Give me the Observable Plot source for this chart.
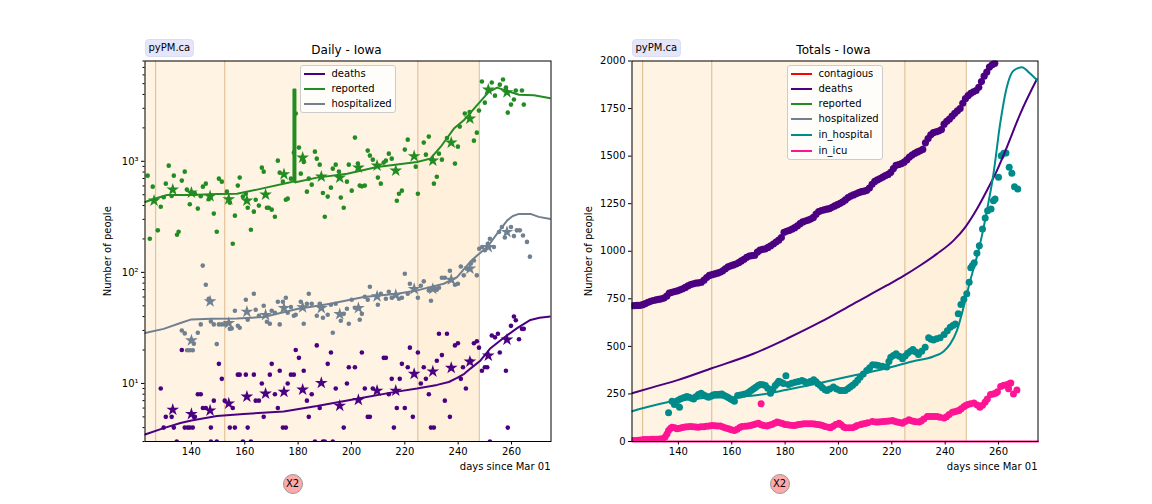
<!DOCTYPE html>
<html><head><meta charset="utf-8">
<script src="https://cdn.jsdelivr.net/npm/d3@7"></script>
<script src="https://cdn.jsdelivr.net/npm/@observablehq/plot@0.6"></script>
<style>
html,body{margin:0;padding:0;background:#fff;overflow:hidden}
#root{position:relative;width:1152px;height:504px;font-family:"DejaVu Sans",sans-serif;font-size:10px;color:#000}
#root svg{position:absolute;top:0}
.lab{position:absolute;white-space:nowrap}
.badge{background:#e6e6fa;border:1px solid #dcdcf2;border-radius:4px;padding:1px 3px;line-height:14px}
.x2{width:18px;height:18px;border-radius:50%;background:#ffaaaa;border:1px solid #999;text-align:center;line-height:18px}
.legend{position:absolute;background:rgba(255,255,255,.8);border:1px solid #ccc;border-radius:3px;box-sizing:border-box}
.legend .s{position:absolute;left:3px;width:21px;height:2px}
.legend .t{position:absolute;white-space:nowrap;line-height:12px}
</style></head><body><div id="root"></div>
<script>
const xDomain = [122.6, 274.8];
const logDomain = [3, 8000];
const periodEdges = [126.6, 152.5, 224.9, 247.9];
const xTicks = [140,160,180,200,220,240,260];
const logMajor = [10,100,1000];
const logMinor = [3,4,5,6,7,8,9,20,30,40,50,60,70,80,90,200,300,400,500,600,700,800,900,2000,3000,4000,5000,6000,7000,8000];
const totalTicks = [0,250,500,750,1000,1250,1500,1750,2000];

const colors = {contagious:"#ff0000",deaths:"#4b0082",reported:"#228b22",hospitalized:"#708090",in_hospital:"#008b8b",in_icu:"#ff1493"};

const reportedDots = [[123.6,743],[124.4,201],[125.5,591],[127.4,239],[128.5,390],[129.6,474],[130.4,629],[131.5,914],[132.6,487],[133.4,743],[134.6,218],[135.2,232],[136.4,670],[137.5,807],[138.3,556],[139.4,410],[140.5,519],[141.3,511],[142.4,375],[143.5,484],[144.3,591],[145.4,629],[146.5,455],[147.3,490],[148.4,338],[149.5,232],[150.3,698],[151.4,656],[153.3,533],[154.4,424],[155.5,181],[156.3,324],[157.4,604],[158.1,713],[159.3,481],[160.4,511],[161.1,382],[162.3,242],[163.4,352],[164.1,451],[165.3,399],[166.4,877],[167.1,807],[168.3,382],[169,382],[170.1,367],[171.3,317],[172.4,1014],[173.1,790],[174.3,656],[175.4,451],[176.1,461],[177.3,698],[178.4,1197],[179.1,2690],[180.3,1328],[181,774],[182.1,986],[183.3,533],[184,698],[185.1,616],[186.3,1222],[187,1057],[188.1,933],[189.3,519],[190,317],[191.1,481],[192.3,579],[193,859],[194.1,933],[195.3,807],[196,471],[197.1,382],[198.3,656],[199,933],[200.1,544],[201.3,1634],[202.4,953],[203.1,604],[203.9,595],[205,604],[206.1,1248],[206.9,1125],[208,1035],[209.9,713],[211,629],[212.1,973],[212.9,1014],[214,1172],[215.1,1057],[217,442],[217.8,511],[218.9,544],[220,1274],[221.1,1567],[224.1,895],[224.9,511],[227.1,1473],[227.9,1148],[229,1668],[230.9,629],[232,727],[232.8,1172],[233.9,1035],[235.8,1623],[238.8,953],[239.9,1355],[240.6,2053],[242.5,2690],[244.3,2780],[245.9,1535],[247,1812],[247.8,2860],[248.9,5230],[250,3375],[252.6,5120],[253.8,3900],[255.6,4900],[256.8,5450],[257.9,4610],[258.6,2745],[259.8,3240],[260.9,3600],[261.6,4340],[263.9,4340],[264.6,3240]];
const reportedStars = [[126,442],[133,556],[140,522],[147,484],[154,455],[160.8,442],[167.8,501],[174.7,764],[181.7,1079],[188.7,727],[195.6,713],[202.6,877],[209.6,914],[216.6,824],[223.5,1109],[230.5,1014],[237.4,1473],[244.4,2420],[251.3,4420],[258.3,4180]];
const reportedLine = [[122.6,430],[127.1,467],[130.9,497],[140,497],[149.6,508],[157.1,511],[164.6,556],[177.1,647],[178.25,660],[179,647],[187.1,713],[198.4,774],[209.6,889],[224.6,986],[229.6,1057],[233.4,1346],[238.4,1970],[242.1,2340],[247.1,3200],[251.5,4220],[254.6,4610],[262.8,3980],[268.4,3930],[274.6,3700]];
const reportedSpike = [[178.25,660],[178.25,4420],[179,4420],[179,647]];

const hospDots = [[136.4,30],[137.5,28.2],[138.4,19.9],[139.4,19.9],[140.5,19.9],[140.9,22.8],[142.4,28.6],[143.5,34],[144.25,115],[145.4,77.4],[146.5,57.9],[147.3,36.2],[148.4,34],[149.5,22.6],[150.3,34],[151.4,34],[152.5,34],[154.4,31],[155.1,31.3],[156.3,45.1],[157.4,33.1],[158.1,31.7],[160.4,56.7],[161.1,37.4],[163.4,64.2],[164.1,46.1],[165.3,40.7],[167.1,50.1],[168.3,35.9],[169.4,34.5],[170.1,45.1],[171.3,43.3],[172.4,54.4],[173.1,34],[174.3,54.4],[175.4,59.1],[176.1,43.3],[177.3,48.7],[178.4,40.7],[179.1,41.5],[181,54.4],[182.1,34.5],[183.3,52.2],[184,64.2],[185.1,52.2],[187,40.7],[188.1,52.2],[189.3,39],[191.1,41.5],[192.3,51.1],[193,28.6],[194.1,52.2],[196,36.7],[197.1,42.3],[198.3,47.1],[199,34.5],[200.1,56.7],[201.3,48],[203.1,37.4],[203.9,42.3],[205,60.4],[206.1,56.7],[206.9,74.3],[209.9,51.1],[211,64.2],[212.9,57.9],[214,67],[215.1,59.1],[217.8,57.9],[218.9,59.1],[220,97.3],[221.1,64.2],[221.9,79],[224.9,59.1],[226,75.8],[227.1,83],[229,68.8],[229.8,55.6],[230.9,72.7],[232,69.8],[232.8,72.7],[233.9,89.5],[235,89.5],[236.9,103.5],[238.8,77.4],[239.9,79],[241,113],[242.1,94],[243.3,108],[244.75,120],[245.9,128],[247,94],[247.9,163],[249,169],[250,158],[251.1,181],[251.9,201],[253.4,169],[255.3,231],[256.4,256],[257.5,206],[259.8,256],[260.9,212],[262,239],[263.1,239],[264.3,215],[265.8,188],[266.9,138.5]];
const hospStars = [[140,24.4],[147,54.8],[154,35],[160.8,44.2],[167.8,41.3],[174.7,47.7],[181.7,48.4],[188.7,47.7],[195.6,42.1],[202.6,47.7],[209.6,60.8],[216.6,62.5],[223.5,70.8],[230.5,71],[237.4,85.9],[244.4,108],[251.3,169],[258.3,231]];
const hospLine = [[122.6,28.4],[129.6,31],[135.9,35],[140,37.7],[147.3,38.2],[157.1,38.5],[167.1,39.6],[179.6,46.8],[192.1,52.2],[204.6,60],[217.1,64.2],[224.6,68.8],[234.6,79],[239.6,90.7],[244.6,125],[247.1,142],[250.9,169],[254.6,223],[258.4,294],[260.5,322],[262.8,336],[267.1,336],[270.2,316],[274.6,302]];

const deathDots = [[128.5,9],[129.6,4],[130.4,5],[132.6,5],[133.4,4],[134.5,3],[136.4,20],[137.5,4],[138.6,4],[139.4,4],[140.5,4],[140.9,5],[141.3,5],[142.4,8],[143.5,8],[144.3,6],[145.4,6],[147.3,3],[147.3,4],[148.4,7],[149.5,3],[150.3,15],[151.4,11],[152.5,7],[154.4,4],[155.5,6],[156.3,4],[157.4,12],[158.1,12],[159.3,3],[160.4,12],[161.1,4],[162.3,3],[163.4,12],[164.1,7],[165.3,7],[166.4,10],[167.1,5],[169.4,12],[170.1,15],[171.3,8],[172.4,6],[173.1,13],[174.3,4],[175.4,4],[176.1,10],[177.3,12],[178.4,12],[179.1,20],[180.3,17],[182.1,13],[183.3,7],[184,5],[185.1,8],[186.3,3],[187,22],[188.1,6],[189.3,3],[190,3],[191.1,15],[192.3,19],[193,3],[194.1,9],[197.1,4],[198.3,10],[199,14],[201.3,14],[203.9,19],[205,9],[206.1,5],[206.9,5],[208,9],[212.1,17],[212.9,17],[214,8],[215.1,11],[215.9,4],[217,6],[218.1,11],[218.9,15],[220,6],[221.1,14],[221.9,21],[223,5],[224.9,19],[226,10],[227.1,14],[227.9,11],[229,8],[229.8,4],[230.9,4],[232,16],[232.8,28],[233.9,18],[235,7],[235.8,28],[236.9,5],[238.8,22],[239.9,23],[241,11],[241.8,14],[242.9,9],[244.75,16],[245.9,23],[247,24],[247.8,21],[248.9,13],[250,14],[250.9,14],[251.9,3],[252.6,27],[253.8,26],[254.9,28],[255.6,19],[257.9,13],[258.6,4],[259.8,33],[260.9,40],[261.6,37],[262.8,25],[263.9,31],[264.6,31]];
const deathStars = [[133,5.8],[140,5.3],[147,5.7],[154,6.6],[160.8,7.6],[167.8,8.1],[174.7,8.4],[181.7,8.8],[188.7,10.1],[195.6,6.3],[202.6,7.1],[209.6,8.6],[216.6,8.6],[223.5,12.2],[230.5,12.8],[237.4,13.8],[244.4,15.7],[251.3,17.8],[258.3,24.8]];
const deathLine = [[122.6,3.47],[129.6,3.96],[135.9,4.4],[140,4.64],[149.6,5.08],[159.6,5.3],[174.6,5.6],[187.1,6.25],[202.1,7.27],[215.9,8.35],[224.6,9],[232.1,9.7],[236.5,10.3],[239.6,11.2],[242.3,12.2],[244.6,13.6],[248.4,16.1],[251.9,20.5],[257.1,25.8],[262.1,31.5],[267.1,37.3],[270.5,39],[274.6,40]];

const totalDeathDots = [[122.6,713],[123.6,714],[124.6,715],[125.6,716],[126.6,719],[127.6,725],[128.6,732],[129.6,737],[130.6,741],[131.6,744],[132.6,747],[133.6,750],[134.6,754],[135.6,764],[136.6,780],[137.6,784],[138.6,788],[139.6,792],[140.6,797],[141.6,803],[142.6,810],[143.6,818],[144.6,825],[145.6,829],[146.6,832],[147.6,834],[148.6,837],[149.6,848],[150.6,862],[151.6,873],[152.6,877],[153.6,881],[154.6,885],[155.6,889],[156.6,897],[157.6,908],[158.6,918],[159.6,923],[160.6,928],[161.6,933],[162.6,940],[163.6,949],[164.6,958],[165.6,968],[166.6,975],[167.6,977],[168.6,979],[169.6,995],[170.6,1006],[171.6,1010],[172.6,1013],[173.6,1020],[174.6,1029],[175.6,1038],[176.6,1048],[177.6,1058],[178.6,1072],[179.6,1100],[180.6,1105],[181.6,1110],[182.6,1116],[183.6,1124],[184.6,1133],[185.6,1145],[186.6,1154],[187.6,1159],[188.6,1164],[189.6,1169],[190.6,1178],[191.6,1195],[192.6,1209],[193.6,1214],[194.6,1218],[195.6,1221],[196.6,1224],[197.6,1231],[198.6,1238],[199.6,1245],[200.6,1252],[201.6,1260],[202.6,1270],[203.6,1282],[204.6,1290],[205.6,1296],[206.6,1302],[207.6,1308],[208.6,1313],[209.6,1316],[210.6,1320],[211.6,1332],[212.6,1352],[213.6,1367],[214.6,1375],[215.6,1382],[216.6,1390],[217.6,1398],[218.6,1404],[219.6,1415],[220.6,1435],[221.6,1452],[222.6,1456],[223.6,1461],[224.6,1468],[225.6,1480],[226.6,1495],[227.6,1506],[228.6,1514],[229.6,1522],[230.6,1528],[231.6,1535],[232.6,1570],[233.6,1592],[234.6,1612],[235.6,1624],[236.6,1628],[237.6,1632],[238.6,1640],[239.6,1668],[240.6,1683],[241.6,1695],[242.6,1710],[243.6,1725],[244.6,1738],[245.6,1750],[246.6,1778],[247.6,1802],[248.6,1818],[249.6,1830],[250.6,1838],[251.6,1845],[252.6,1862],[253.6,1892],[254.6,1920],[255.6,1942],[256.6,1968],[257.6,1980],[258.6,1988]];
const totalHospDots = [[136.3,151],[137.6,212],[138.5,195],[138.8,207],[139.7,215],[140.4,180],[140.7,224],[141.7,228],[142.5,232],[143.2,236],[144,232],[145,227],[145.7,224],[146.5,235],[147.5,247],[148.5,254],[149.5,245],[150.4,238],[151.3,233],[152.2,238],[153,244],[153.8,247],[154.7,247],[155.5,249],[156.3,250],[157.2,242],[158,236],[158.8,230],[159.6,224],[160.3,218],[161,212],[162.2,242],[163.3,245],[164.5,249],[165.7,254],[166.6,262],[167.4,270],[168.2,277],[169,285],[169.9,294],[170.7,300],[171.7,298],[172.6,294],[173.5,280],[174.5,254],[175.4,275],[176.3,294],[177,305],[177.6,317],[178.5,312],[179.4,305],[180.3,345],[181.3,300],[182.5,306],[183.8,312],[185,316],[186.3,321],[187.2,315],[188.2,308],[189.4,316],[190.7,324],[191.5,316],[192.3,304],[193.2,294],[194,282],[195,272],[195.7,268],[196.7,276],[198.1,286],[199.3,276],[200.6,268],[201.5,268],[202.5,268],[203.5,277],[204.4,286],[205.3,296],[206.3,307],[207.2,322],[208.1,338],[209.3,355],[210.6,373],[211.7,388],[212.8,403],[214,402],[215,400],[216.5,396],[218.1,391],[218.9,420],[219.6,443],[220.6,452],[221.6,461],[222.8,448],[224,435],[225,450],[225.9,464],[227,475],[227.9,484],[229,470],[230,457],[231.2,475],[232.5,496],[233.8,545],[234.7,538],[235.6,534],[236.8,540],[238.1,545],[239.6,562],[240.8,582],[241.9,601],[242.9,610],[243.8,618],[244.9,671],[245.9,720],[247,748],[248.1,776],[249,837],[249.6,913],[250.2,925],[250.9,940],[251.9,990],[252.8,1029],[254,1117],[255,1175],[255.9,1213],[257.2,1222],[258.1,1266],[258.7,1275],[260,1389],[261,1502],[262,1515],[262.8,1516],[264,1441],[265,1410],[266,1339],[267.2,1327]];
const totalIcuDots = [[123,5],[124,5],[125,7],[126,8],[127,10],[128,10],[129,11],[130,12],[131,12],[132,12],[133,13],[134,14],[135,23],[135.7,40],[136.3,58],[137,68],[137.6,75],[138.6,72],[139.5,67],[140.5,70],[141.5,74],[142.5,76],[143.5,78],[144.5,79],[145.5,77],[146.5,76],[147.5,75],[148.5,77],[149.5,78],[150.5,80],[151.5,82],[152.6,84],[153.6,83],[154.6,82],[155.7,81],[156.7,76],[157.7,71],[158.8,67],[159.8,62],[161,58],[162,65],[163,73],[163.8,79],[165,80],[166,82],[167,84],[168,88],[169,92],[170,96],[171,88],[171,198],[172,84],[173.2,81],[174,85],[175,90],[176,96],[177,102],[178,98],[179,94],[180,90],[181,88],[182,86],[183.2,84],[184,86],[185,89],[186,91],[187,93],[188,93],[189,93],[190,93],[191,92],[192,90],[193,88],[194,84],[195,79],[196.3,75],[197,72],[198,80],[199,90],[200.2,96],[201,88],[202,76],[202.7,72],[204,72],[205.2,72],[206.2,78],[207,84],[208.3,89],[209,92],[210,95],[211,98],[212.7,105],[214,103],[215,102],[216,104],[217,105],[218,107],[219,108],[220.2,110],[221,107],[222,103],[223,100],[224,96],[225,105],[226.4,114],[227,110],[228,106],[229,104],[230.2,102],[231,108],[232,118],[233.3,131],[234,132],[235,132],[236,131],[237,131],[238,127],[239.6,123],[240.5,130],[241.5,142],[242.7,154],[243.5,157],[244.5,160],[245.2,163],[246,172],[247,182],[247.7,189],[248.5,194],[249.5,198],[250.8,203],[252,192],[253,180],[254,190],[255,208],[255.8,224],[257,247],[258,250],[258.9,254],[259.6,262],[260.8,289],[262,296],[263.1,298],[263.75,277],[264,303],[264.6,308],[265.6,250],[266.9,271]];
const totalDeathLine = [[122.6,254],[130.6,286],[140,324],[152.5,385],[168.1,461],[180.6,540],[193.1,627],[205.6,724],[218.1,820],[224.4,870],[230.6,925],[236.9,986],[243.1,1056],[247.5,1126],[251.9,1222],[255.6,1318],[259.4,1424],[263.1,1546],[268.1,1721],[274.4,1905]];
const totalHospLine = [[122.6,159],[130.6,189],[138.1,213],[149.4,228],[161.9,234],[171.9,248],[180.6,272],[193.1,308],[205.6,347],[218.1,385],[228.1,422],[235.6,447],[239.4,473],[241.9,513],[244.4,583],[246.9,706],[249.4,846],[252.5,1004],[253.9,1090],[255.6,1210],[258.1,1406],[260.6,1669],[263.1,1862],[265.6,1949],[268.8,1967],[271.4,1940],[274.4,1900]];
const icuLine = [[122.6,0],[274.8,0]];

const dailyLegend = ["deaths","reported","hospitalized"];
const totalLegend = ["contagious","deaths","reported","hospitalized","in_hospital","in_icu"];
const xLabel = "days since Mar 01";
const yLabel = "Number of people";

const root = document.getElementById("root");
const gx = d => d[0], gy = d => d[1];
const opts = {width:576,height:504,marginLeft:144.5,marginRight:25.5,marginTop:60.5,marginBottom:63,
  style:{background:"transparent",fontFamily:"DejaVu Sans",fontSize:"10px",color:"#000"}};

function bands(y0,y1){
  return [
    Plot.rect([[xDomain[0],periodEdges[2]]],{x1:gx,x2:gy,y1:y0,y2:y1,fill:"#fff4e3"}),
    Plot.rect([[periodEdges[2],periodEdges[3]]],{x1:gx,x2:gy,y1:y0,y2:y1,fill:"#fff0dc"}),
    Plot.ruleX(periodEdges,{stroke:"#dcb98a",strokeWidth:1})
  ];
}
const smooth = {curve:"monotone-x",strokeWidth:2,clip:true};
function series(line,dots,stars,color){
  return [
    Plot.dot(dots,{x:gx,y:gy,r:2.3,fill:color,clip:true}),
    Plot.dot(stars,{x:gx,y:gy,r:4,symbol:"star",fill:color,clip:true}),
    Plot.line(line,{x:gx,y:gy,stroke:color,strokeWidth:2,clip:true})
  ];
}
const xAxes = () => [
  Plot.axisX({ticks:xTicks,tickSize:3.5,tickPadding:3,tickFormat:d=>String(d),label:null}),
  Plot.text([xLabel],{frameAnchor:"bottom-right",textAnchor:"end",lineAnchor:"middle",dy:25,dx:-0.5,fontSize:10})
];

const daily = Plot.plot({...opts,
  x:{domain:xDomain},
  y:{type:"log",domain:logDomain,label:null},
  marks:[
    ...bands(logDomain[0],logDomain[1]),
    ...series(deathLine,deathDots,deathStars,colors.deaths),
    ...series(hospLine,hospDots,hospStars,colors.hospitalized),
    ...series(reportedLine,reportedDots,reportedStars,colors.reported),
    Plot.line(reportedSpike,{x:gx,y:gy,stroke:colors.reported,strokeWidth:2,clip:true}),
    ...xAxes(),
    Plot.axisY({ticks:logMajor,tickSize:3.5,tickPadding:3,tickFormat:d=>({10:"10¹",100:"10²",1000:"10³"}[d]),label:yLabel,labelAnchor:"center",labelArrow:"none",labelOffset:41}),
    Plot.axisY({ticks:logMinor,tickSize:2,tickFormat:()=>"",label:null}),
    Plot.frame({stroke:"#000",strokeWidth:1})
  ]});
daily.style.left="0px";
root.appendChild(daily);

const totalsDomain=[totalTicks[0],totalTicks[totalTicks.length-1]];
const totals = Plot.plot({...opts,
  x:{domain:xDomain},
  y:{domain:totalsDomain,label:null},
  marks:[
    ...bands(totalsDomain[0],totalsDomain[1]),
    Plot.dot(totalDeathDots,{x:gx,y:gy,r:3.6,fill:colors.deaths,clip:true}),
    Plot.dot(totalHospDots,{x:gx,y:gy,r:3.5,fill:colors.in_hospital,clip:true}),
    Plot.dot(totalIcuDots,{x:gx,y:gy,r:3.5,fill:colors.in_icu,clip:true}),
    Plot.line(totalDeathLine,{x:gx,y:gy,stroke:colors.deaths,...smooth}),
    Plot.line(totalHospLine,{x:gx,y:gy,stroke:colors.in_hospital,...smooth}),
    Plot.line(icuLine,{x:gx,y:gy,stroke:colors.in_icu,strokeWidth:2}),
    ...xAxes(),
    Plot.axisY({ticks:totalTicks,tickSize:3.5,tickPadding:3,label:yLabel,labelAnchor:"center",labelArrow:"none",labelOffset:47,tickFormat:d=>String(d)}),
    Plot.frame({stroke:"#000",strokeWidth:1})
  ]});
totals.style.left="487px";
root.appendChild(totals);

function lab(cls,text,left,top,center){
  const e=document.createElement("div");
  e.className="lab "+cls;e.textContent=text;
  e.style.left=left+"px";e.style.top=top+"px";
  if(center)e.style.transform="translateX(-50%)";
  root.appendChild(e);return e;
}
for(const [title,off] of [["Daily - Iowa",0],["Totals - Iowa",487]]){
  const t=lab("",title,346.5+off,43,true);t.style.fontSize="12px";
  lab("badge","pyPM.ca",144.5+off,39);
  lab("x2","X2",282.5+off,474);
}
function legend(items,left,width,rowYs){
  const L=document.createElement("div");L.className="legend";
  L.style.left=left+"px";L.style.top="65px";L.style.width=width+"px";
  L.style.height=(rowYs[rowYs.length-1]+10)+"px";
  items.forEach((name,i)=>{
    const s=document.createElement("div");s.className="s";s.style.top=(rowYs[i]-1)+"px";s.style.background=colors[name];
    const t=document.createElement("div");t.className="t";t.textContent=name;t.style.left="31px";t.style.top=(rowYs[i]-6)+"px";
    L.append(s,t);
  });
  root.appendChild(L);
}
legend(dailyLegend,299.5,96,[8,23,38]);
legend(totalLegend,786.5,96,[8,23,38,53,69,85]);
</script></body></html>
